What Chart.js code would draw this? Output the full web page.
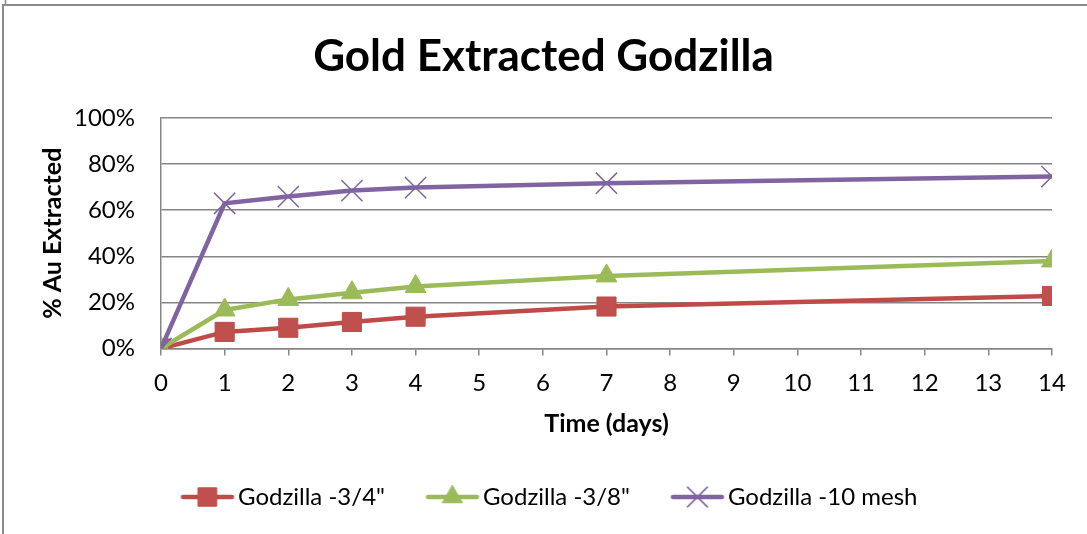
<!DOCTYPE html>
<html>
<head>
<meta charset="utf-8">
<script src="https://cdn.jsdelivr.net/npm/chart.js@4.4.1/dist/chart.umd.min.js"></script>
<style>
  html, body { margin: 0; padding: 0; background: #ffffff; }
  #wrap { position: relative; width: 1087px; height: 534px; }
</style>
</head>
<body>
<div id="wrap"><canvas id="chart" width="1087" height="534"></canvas></div>
<script>
// Leach time in days
const days = [0, 1, 2, 3, 4, 7, 14];

// % gold extracted per crush size
const coarseCrush = [0, 7.2, 9.0, 11.5, 13.8, 18.2, 22.8];   // -3/4"
const mediumCrush = [0, 16.7, 21.3, 24.2, 26.9, 31.5, 38.0]; // -3/8"
const fineGrind   = [0, 63.0, 65.9, 68.5, 69.8, 71.7, 74.6]; // -10 mesh

const seriesNames = ['Godzilla -3/4"', 'Godzilla -3/8"', 'Godzilla -10 mesh'];

// Axis ticks
const xTickValues = [0, 1, 2, 3, 4, 5, 6, 7, 8, 9, 10, 11, 12, 13, 14];
const yTickValues = [0, 20, 40, 60, 80, 100];

const FONT = 'Lato, "Open Sans", "DejaVu Sans", sans-serif';
const GRID = '#858585';

const styles = [
  { color: '#C0504D', line: '#BE4B48', shape: 'rect',     r: 13.5, lr: 13,  bw: 1 },
  { color: '#9BBB59', line: '#9BBB59', shape: 'triangle', r: 12,   lr: 11.5, bw: 1 },
  { color: '#8064A2', line: '#8064A2', shape: 'crossRot', r: 15,   lr: 14,  bw: 1.5 }
];

const seriesValues = [coarseCrush, mediumCrush, fineGrind];

const datasets = seriesValues.map((vals, i) => {
  const s = styles[i];
  return {
    label: seriesNames[i],
    data: days.map((d, k) => ({ x: d, y: vals[k] })),
    borderColor: s.line,
    backgroundColor: s.color,
    borderWidth: 4.5,
    tension: 0,
    fill: false,
    pointStyle: s.shape,
    pointRadius: s.r,
    pointBorderWidth: s.bw,
    pointBorderColor: s.line,
    pointBackgroundColor: s.color,
    order: 3 - i
  };
});

// Legend keys: a short line with the series marker in its middle.
// Blank space on the left of the key canvas pushes the drawn key
// towards its label.
const KEY_LEFT_GAP = 39;
const KEY_W = 56;
const KEY_H = 30;
function legendIcon(s) {
  const c = document.createElement('canvas');
  c.width = KEY_LEFT_GAP + KEY_W; c.height = KEY_H;
  const g = c.getContext('2d');
  const x0 = KEY_LEFT_GAP, cy = KEY_H / 2;
  g.strokeStyle = s.line;
  g.lineWidth = 4.5;
  g.lineCap = 'round';
  g.beginPath();
  g.moveTo(x0 + 3.5, cy); g.lineTo(x0 + KEY_W - 3.5, cy);
  g.stroke();
  g.fillStyle = s.color;
  g.strokeStyle = s.line;
  g.lineWidth = s.bw;
  Chart.helpers.drawPoint(g, { pointStyle: s.shape, radius: s.lr, rotation: 0, borderWidth: s.bw }, x0 + KEY_W / 2, cy);
  return c;
}
const legendIcons = styles.map(legendIcon);

// Outer chart frame and white background
const framePlugin = {
  id: 'frame',
  beforeDraw(chart) {
    const ctx = chart.ctx;
    ctx.save();
    ctx.fillStyle = '#ffffff';
    ctx.fillRect(0, 0, chart.width, chart.height);
    ctx.strokeStyle = '#8a8a8a';
    ctx.lineWidth = 2;
    ctx.beginPath();
    ctx.moveTo(3, chart.height);
    ctx.lineTo(3, 5);
    ctx.lineTo(chart.width, 5);
    ctx.stroke();
    ctx.lineWidth = 1.5;
    ctx.beginPath();
    ctx.moveTo(5.5, 0);
    ctx.lineTo(5.5, 4);
    ctx.stroke();
    ctx.restore();
  }
};

// Legend row starts left of centre
const LEGEND_START_X = 150;
const legendShift = {
  id: 'legendShift',
  afterLayout(chart) {
    const lg = chart.legend;
    const dx = LEGEND_START_X - (lg.left + lg.options.labels.padding);
    lg.left += dx;
    lg.right += dx;
  }
};

new Chart(document.getElementById('chart'), {
  type: 'line',
  data: { datasets },
  plugins: [framePlugin, legendShift],
  options: {
    responsive: false,
    animation: false,
    events: [],
    layout: { padding: { left: 0, right: 0, top: 0, bottom: 15 } },
    plugins: {
      title: {
        display: true,
        text: 'Gold Extracted Godzilla',
        color: '#000000',
        font: { family: FONT, size: 44, weight: 'bold' },
        padding: { top: 30.6, bottom: 34.6 }
      },
      legend: {
        display: true,
        position: 'bottom',
        align: 'start',
        labels: {
          usePointStyle: true,
          pointStyleWidth: 76,
          padding: 10,
          color: '#000000',
          font: { family: FONT, size: 24 },
          generateLabels(chart) {
            return chart.data.datasets.map((ds, i) => ({
              text: ds.label,
              pointStyle: legendIcons[i],
              fillStyle: styles[i].color,
              strokeStyle: styles[i].line,
              lineWidth: 0,
              hidden: false,
              datasetIndex: i,
              fontColor: '#000000'
            }));
          }
        }
      },
      tooltip: { enabled: false }
    },
    scales: {
      x: {
        type: 'linear',
        position: 'bottom',
        min: xTickValues[0],
        max: xTickValues[xTickValues.length - 1],
        afterBuildTicks(scale) { scale.ticks = xTickValues.map(v => ({ value: v })); },
        afterFit(scale) { scale.height = 126.5; },
        grid: { display: true, drawOnChartArea: false, drawTicks: true, tickLength: 7, color: GRID, lineWidth: 1.5 },
        border: { display: true, color: GRID, width: 1.5 },
        ticks: {
          color: '#000000',
          font: { family: FONT, size: 24 },
          padding: 13,
          maxRotation: 0,
          autoSkip: false,
          callback: v => String(v)
        },
        title: {
          display: true,
          text: 'Time (days)',
          color: '#000000',
          font: { family: FONT, size: 25, weight: 'bold' },
          padding: { top: 0, bottom: 36 }
        }
      },
      y: {
        position: 'left',
        min: yTickValues[0],
        max: yTickValues[yTickValues.length - 1],
        afterBuildTicks(scale) { scale.ticks = yTickValues.map(v => ({ value: v })); },
        afterFit(scale) { scale.width = 161; },
        grid: { display: true, drawTicks: false, color: GRID, lineWidth: 1.5 },
        border: { display: true, color: GRID, width: 1.5 },
        ticks: {
          color: '#000000',
          font: { family: FONT, size: 24 },
          padding: 26,
          callback: v => v + '%'
        },
        title: {
          display: true,
          text: '% Au Extracted',
          color: '#000000',
          font: { family: FONT, size: 25, weight: 'bold' },
          padding: { top: 38, bottom: 0 }
        }
      },
      yRight: {
        position: 'right',
        display: true,
        min: 0,
        max: 1,
        afterFit(scale) { scale.width = 35; },
        grid: { display: false, drawTicks: false },
        border: { display: false },
        ticks: { display: false }
      }
    }
  }
});
</script>
</body>
</html>
